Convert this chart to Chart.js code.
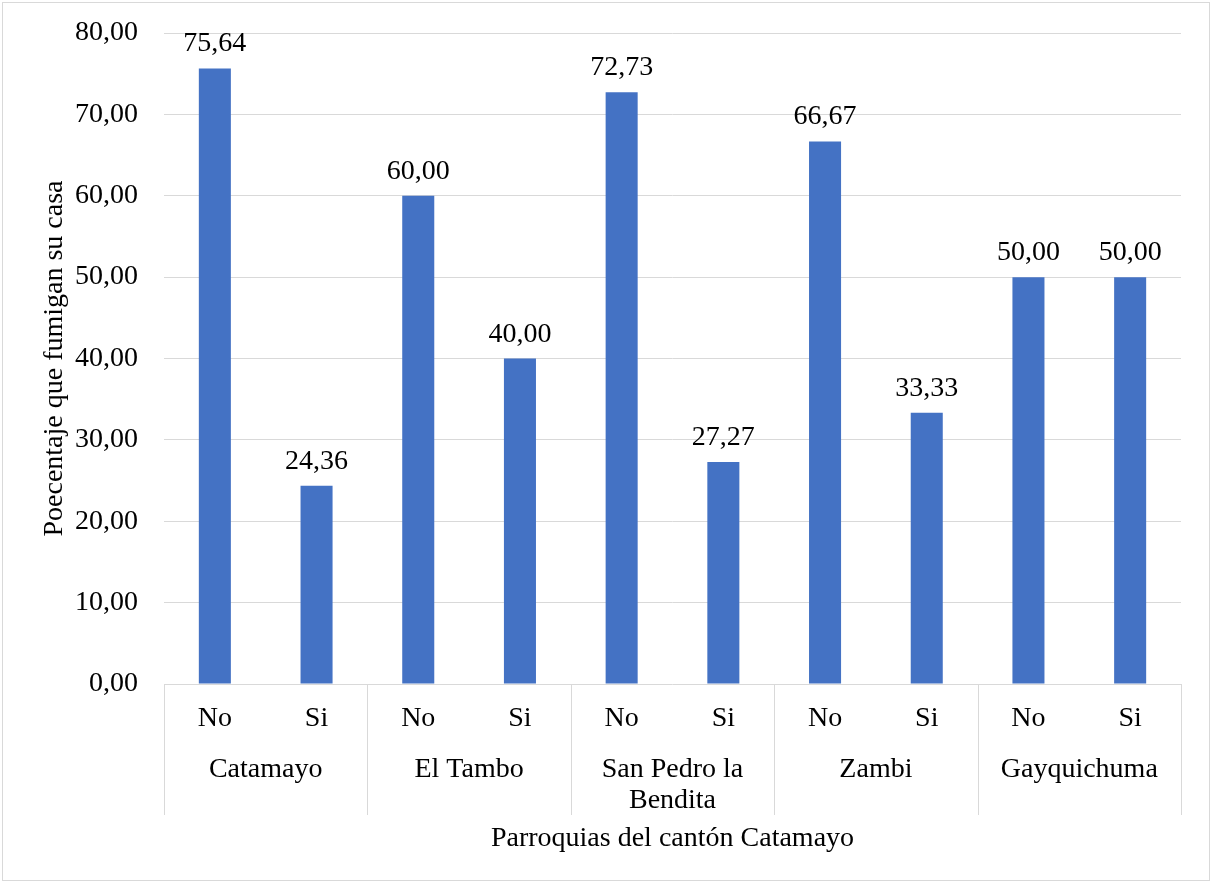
<!DOCTYPE html>
<html>
<head>
<meta charset="utf-8">
<script src="https://cdn.jsdelivr.net/npm/chart.js@4"></script>
<style>
  html, body { margin: 0; padding: 0; background: #ffffff; }
  #wrap { width: 1212px; height: 883px; position: relative; }
</style>
</head>
<body>
<div id="wrap"><canvas id="c" width="1212" height="883"></canvas></div>
<script>
// ---- data ----
const answers = ['No', 'Si', 'No', 'Si', 'No', 'Si', 'No', 'Si', 'No', 'Si'];
const parishes = ['Catamayo', 'El Tambo', ['San Pedro la', 'Bendita'], 'Zambi', 'Gayquichuma'];
const percentages = [75.64, 24.36, 60.00, 40.00, 72.73, 27.27, 66.67, 33.33, 50.00, 50.00];
const yTitle = 'Poecentaje que fumigan su casa';
const xTitle = 'Parroquias del cantón Catamayo';

const FONT = '"Liberation Serif", "Times New Roman", serif';
const FS = 28;
const fmt = v => Number(v).toFixed(2).replace('.', ',');

const decor = {
  id: 'decor',
  beforeDraw(chart) {
    const ctx = chart.ctx;
    ctx.save();
    ctx.fillStyle = '#ffffff';
    ctx.fillRect(0, 0, chart.width, chart.height);
    ctx.strokeStyle = '#d9d9d9';
    ctx.lineWidth = 1;
    ctx.strokeRect(2.5, 2.5, chart.width - 5, chart.height - 5);
    ctx.restore();
  },
  afterDatasetsDraw(chart) {
    const ctx = chart.ctx;
    const meta = chart.getDatasetMeta(0);
    ctx.save();
    ctx.fillStyle = '#000000';
    ctx.font = FS + 'px ' + FONT;
    ctx.textAlign = 'center';
    ctx.textBaseline = 'alphabetic';
    meta.data.forEach((bar, i) => {
      ctx.fillText(fmt(chart.data.datasets[0].data[i]), bar.x, bar.y - 17);
    });
    ctx.restore();
  },
  afterDraw(chart) {
    const ctx = chart.ctx;
    const xs = chart.scales.x;
    const area = chart.chartArea;
    const catW = (area.right - area.left) / answers.length;
    const bottom = area.bottom;
    ctx.save();
    // separators between parish groups
    ctx.strokeStyle = '#d9d9d9';
    ctx.lineWidth = 1;
    for (let g = 0; g <= parishes.length; g++) {
      let x = g * 2 < answers.length ? xs.getPixelForValue(g * 2) - catW / 2 : xs.getPixelForValue(answers.length - 1) + catW / 2;
      x = Math.round(x) + 0.5;
      ctx.beginPath();
      ctx.moveTo(x, bottom);
      ctx.lineTo(x, bottom + 131);
      ctx.stroke();
    }
    ctx.fillStyle = '#000000';
    ctx.font = FS + 'px ' + FONT;
    ctx.textAlign = 'center';
    ctx.textBaseline = 'alphabetic';
    answers.forEach((a, i) => {
      ctx.fillText(a, xs.getPixelForValue(i), bottom + 42);
    });
    parishes.forEach((p, g) => {
      const cx = (xs.getPixelForValue(g * 2) + xs.getPixelForValue(g * 2 + 1)) / 2;
      const lines = Array.isArray(p) ? p : [p];
      lines.forEach((ln, k) => ctx.fillText(ln, cx, bottom + 93 + k * 31));
    });
    ctx.fillText(xTitle, (area.left + area.right) / 2, bottom + 162);
    ctx.restore();
  }
};

new Chart(document.getElementById('c'), {
  type: 'bar',
  data: {
    labels: answers,
    datasets: [{
      data: percentages,
      backgroundColor: '#4472C4',
      borderWidth: 0,
      barPercentage: 0.315,
      categoryPercentage: 1.0
    }]
  },
  options: {
    responsive: false,
    animation: false,
    devicePixelRatio: 1,
    layout: { padding: { top: 33, right: 31, bottom: 199, left: 20 } },
    plugins: { legend: { display: false }, tooltip: { enabled: false } },
    scales: {
      x: {
        offset: true,
        grid: { display: false, drawTicks: false },
        border: { display: false },
        ticks: { display: false },
        afterFit(scale) { scale.height = 0; scale.paddingLeft = 0; scale.paddingRight = 0; }
      },
      y: {
        min: 0,
        max: 80,
        ticks: {
          stepSize: 10,
          padding: 26,
          color: '#000000',
          font: { family: FONT, size: FS },
          callback: v => fmt(v)
        },
        grid: { color: '#d9d9d9', drawTicks: false, lineWidth: 1 },
        border: { display: false },
        title: {
          display: true,
          text: yTitle,
          color: '#000000',
          font: { family: FONT, size: FS },
          padding: { top: 18, bottom: 0 }
        },
        afterFit(scale) { scale.width = 144; scale.paddingTop = 0; scale.paddingBottom = 0; }
      }
    }
  },
  plugins: [decor]
});
</script>
</body>
</html>
